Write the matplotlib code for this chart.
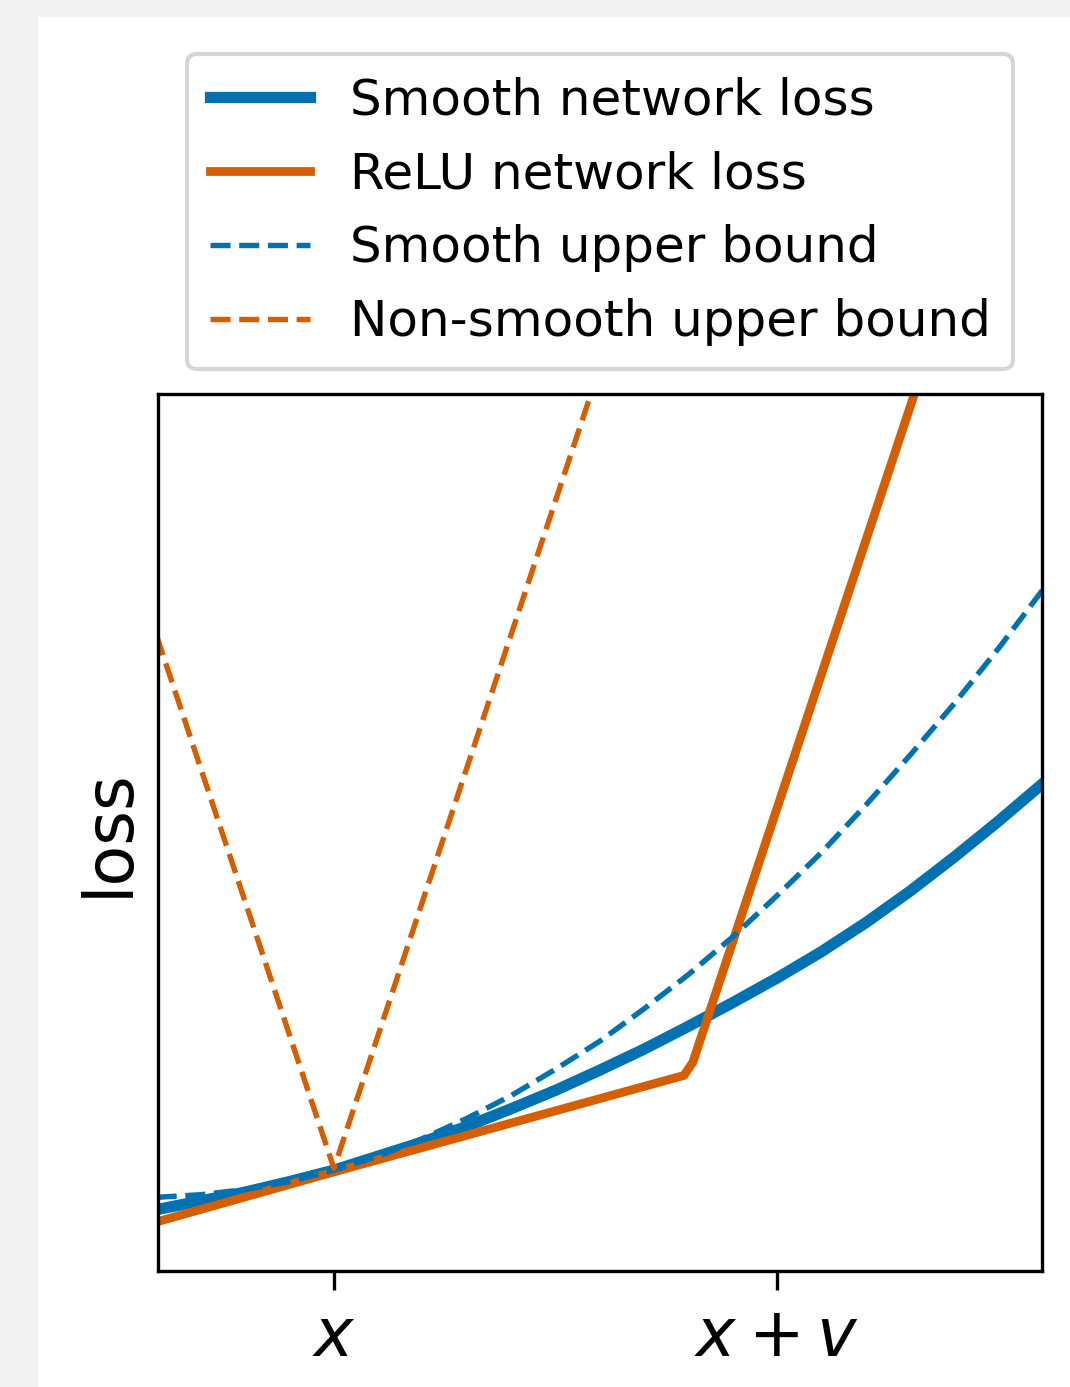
import matplotlib
matplotlib.use('Agg')
import matplotlib.pyplot as plt
from matplotlib.patches import Rectangle

# x = 0 is the point x, x = 1 is x + v
x_grid = [-0.4, -0.3, -0.2, -0.1, 0.0, 0.1, 0.2, 0.3, 0.4, 0.5, 0.6,
          0.7, 0.8, 0.9, 1.0, 1.1, 1.2, 1.3, 1.4, 1.5, 1.6]
smooth_loss = [0.070, 0.080, 0.090, 0.102, 0.115, 0.131, 0.147, 0.165, 0.185, 0.206, 0.229,
               0.253, 0.279, 0.306, 0.334, 0.364, 0.397, 0.433, 0.472, 0.513, 0.556]
smooth_bound = [0.084, 0.087, 0.093, 0.102, 0.115, 0.131, 0.151, 0.174, 0.200, 0.230, 0.262,
                0.299, 0.338, 0.381, 0.428, 0.477, 0.531, 0.588, 0.647, 0.710, 0.777]

relu_x = [-0.40, 0.0, 0.79, 0.81, 1.31, 1.40]
relu_loss = [0.056, 0.113, 0.223, 0.238, 1.0, 1.133]

nonsmooth_x = [-0.40, 0.0, 0.58, 0.62]
nonsmooth_bound = [0.724, 0.117, 1.0, 1.06]

tick_pos = [0.0, 1.0]
tick_labels = ['$x$', '$x+v$']

blue = '#0072b2'
orange = '#d55e00'

fig = plt.figure(figsize=(1070 / 300, 1387 / 300), dpi=300, facecolor='#f2f2f2')
fig.patches.append(Rectangle((38 / 1070, 0), 1 - 38 / 1070, 1 - 17 / 1387,
                             transform=fig.transFigure, facecolor='white',
                             edgecolor='none', zorder=-1))

ax = fig.add_axes([158 / 1070, 116 / 1387, 884 / 1070, 877 / 1387])
ax.plot(x_grid, smooth_loss, color=blue, lw=2.7, label='Smooth network loss')
ax.plot(relu_x, relu_loss, color=orange, lw=2.1, label='ReLU network loss')
ax.plot(x_grid, smooth_bound, color=blue, lw=1.3, ls='--', label='Smooth upper bound')
ax.plot(nonsmooth_x, nonsmooth_bound, color=orange, lw=1.3, ls='--',
        label='Non-smooth upper bound')

ax.set_xlim(-0.397, 1.598)
ax.set_ylim(0, 1)
ax.set_yticks([])
ax.set_xticks(tick_pos)
ax.set_xticklabels(tick_labels, fontsize=16)
ax.tick_params(axis='x', length=4.5)
ax.set_ylabel('loss', fontsize=16)

ax.legend(loc='lower center', bbox_to_anchor=(0.5, 1.0), fontsize=12,
          handlelength=2.0, labelspacing=0.52, borderpad=0.45)

fig.savefig('out.png', dpi=300)
